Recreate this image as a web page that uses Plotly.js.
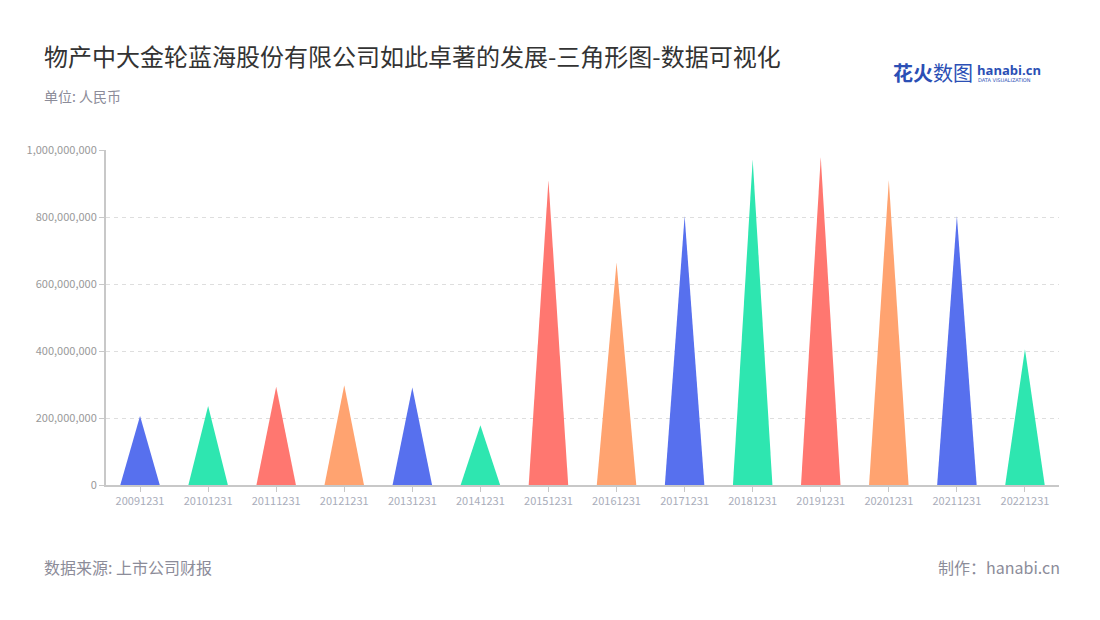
<!DOCTYPE html>
<html>
<head>
<meta charset="utf-8">
<script src="https://cdn.plot.ly/plotly-3.0.1.min.js"></script>
<style>html,body{margin:0;padding:0;background:#fff;}#chart{width:1100px;height:620px;}</style>
</head>
<body>
<div id="chart"></div>
<script>
const categories = ["20091231","20101231","20111231","20121231","20131231","20141231","20151231","20161231","20171231","20181231","20191231","20201231","20211231","20221231"];
const values = [206000000, 236000000, 293000000, 298000000, 291000000, 178000000, 910000000, 664000000, 803000000, 972000000, 978000000, 910000000, 803000000, 405000000];
const palette = ["#5770EE", "#2EE6B0", "#FF7770", "#FFA370"];
const yTicks = [0, 200000000, 400000000, 600000000, 800000000, 1000000000];

const halfWidth = 0.29;
const traces = categories.map((c, i) => ({
  type: "scatter",
  mode: "lines",
  x: [i - halfWidth, i, i + halfWidth, i - halfWidth],
  y: [0, values[i], 0, 0],
  fill: "toself",
  fillcolor: palette[i % palette.length],
  line: {width: 0, color: palette[i % palette.length]},
  hoverinfo: "skip",
  showlegend: false
}));

const font = "'Noto Sans CJK SC', 'Noto Sans', sans-serif";
const layout = {
  width: 1100, height: 620,
  margin: {l: 106, r: 41, t: 150, b: 135},
  paper_bgcolor: "#ffffff", plot_bgcolor: "#ffffff",
  font: {family: font},
  showlegend: false,
  xaxis: {
    range: [-0.5, categories.length - 0.5],
    tickvals: categories.map((c, i) => i),
    ticktext: categories,
    tickfont: {size: 11, color: "#A9ADBA", family: font},
    ticks: "outside", ticklen: 5, tickcolor: "#C8C8C8", tickwidth: 1,
    showgrid: false, zeroline: false,
    showline: true, linecolor: "#C8C8C8", linewidth: 2,
    fixedrange: true
  },
  yaxis: {
    range: [0, 1000000000],
    tickvals: yTicks,
    tickformat: ",d",
    tickfont: {size: 11, color: "#999999", family: font},
    ticks: "outside", ticklen: 5, tickcolor: "#C8C8C8",
    showgrid: true, gridcolor: "#DEDEDE", griddash: "4px,4px", gridwidth: 1,
    zeroline: false,
    showline: true, linecolor: "#C8C8C8", linewidth: 2,
    fixedrange: true
  },
  annotations: [
    {xref: "paper", yref: "paper", x: -64/953, y: 1 + (150-55)/335, xanchor: "left", yanchor: "middle",
     text: "物产中大金轮蓝海股份有限公司如此卓著的发展-三角形图-数据可视化", showarrow: false,
     font: {size: 24, color: "#333333", family: font}},
    {xref: "paper", yref: "paper", x: -64/953, y: 1 + (150-96)/335, xanchor: "left", yanchor: "middle",
     text: "单位: 人民币", showarrow: false, font: {size: 14, color: "#8C8C99", family: font}},
    {xref: "paper", yref: "paper", x: -64/953, y: -(567-485)/335, xanchor: "left", yanchor: "middle",
     text: "数据来源: 上市公司财报", showarrow: false, font: {size: 16, color: "#8C8C99", family: font}},
    {xref: "paper", yref: "paper", x: 1 + 3/953, y: -(567-485)/335, xanchor: "right", yanchor: "middle",
     text: "制作：hanabi.cn", showarrow: false, font: {size: 16, color: "#8C8C99", family: font}},
    {xref: "paper", yref: "paper", x: (891-106)/953, y: 1 + (150-73)/335, xanchor: "left", yanchor: "middle",
     text: "<b>花火</b>数图", showarrow: false, font: {size: 20, color: "#2B4FB5", family: font}},
    {xref: "paper", yref: "paper", x: (975-106)/953, y: 1 + (150-70)/335, xanchor: "left", yanchor: "middle",
     text: "<b>hanabi.cn</b>", showarrow: false, font: {size: 13, color: "#2B4FB5", family: "'Open Sans', sans-serif"}},
    {xref: "paper", yref: "paper", x: (976-106)/953, y: 1 + (150-80)/335, xanchor: "left", yanchor: "middle",
     text: "DATA VISUALIZATION", showarrow: false, font: {size: 5, color: "#2B4FB5", family: "'DejaVu Sans', sans-serif"}}
  ]
};

Plotly.newPlot("chart", traces, layout, {displayModeBar: false, staticPlot: true});
</script>
</body>
</html>
